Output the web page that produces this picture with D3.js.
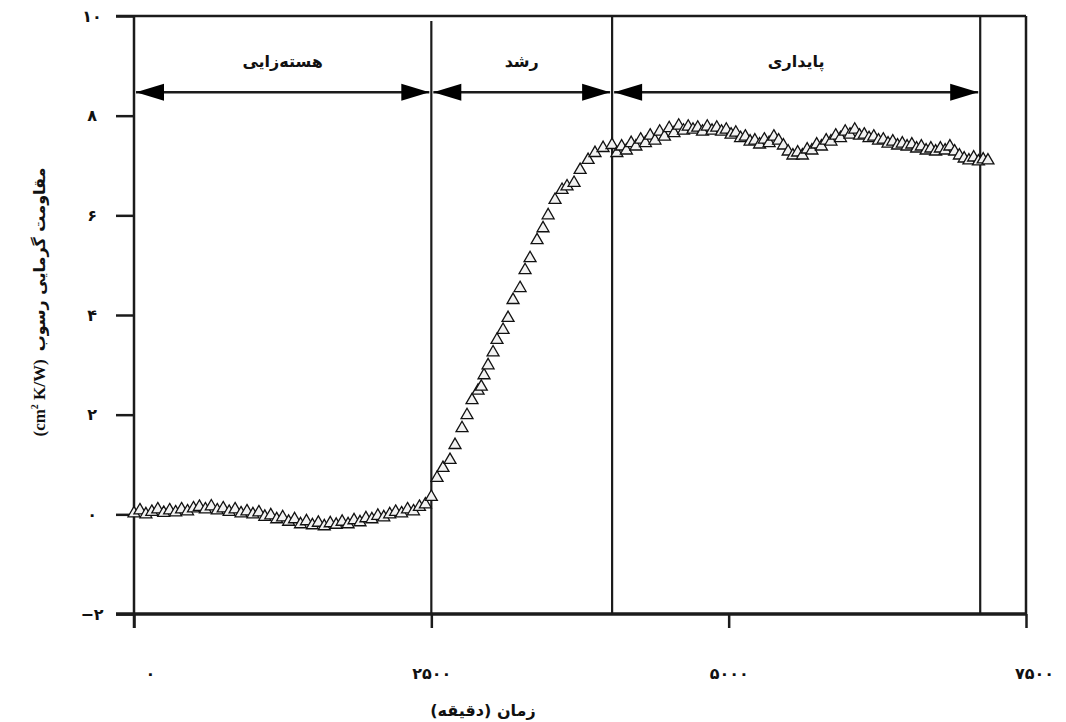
<!DOCTYPE html>
<html>
<head>
<meta charset="utf-8">
<script src="https://cdn.jsdelivr.net/npm/d3@7"></script>
<style>
  body { margin: 0; background: #fff; }
  svg { display: block; }
  text { font-family: "DejaVu Sans", sans-serif; font-weight: bold; fill: #111; }
</style>
</head>
<body>
<svg width="1066" height="722"></svg>
<script>
// داده ها (زمان به دقیقه، مقاومت cm2 K/W)
var nucleationTime = [0,50,100,150,200,250,300,350,400,450,500,550,600,650,700,750,800,850,900,950,
    1000,1050,1100,1150,1200,1250,1300,1350,1400,1450,1500,1550,1600,1650,1700,1750,1800,1850,1900,1950,
    2000,2050,2100,2150,2200,2250,2300,2350,2400,2450,2500];
var nucleationR = [0.02,0.08,0.0,0.05,0.1,0.03,0.08,0.04,0.1,0.06,0.12,0.15,0.1,0.16,0.08,0.12,0.05,0.1,0.02,0.06,
    0.0,0.04,-0.05,-0.02,-0.1,-0.06,-0.15,-0.1,-0.2,-0.14,-0.22,-0.17,-0.24,-0.18,-0.21,-0.15,-0.2,-0.12,-0.16,-0.08,
    -0.1,-0.03,-0.06,0.0,0.05,0.02,0.1,0.06,0.15,0.2,0.35];

var growthTime = [2548,2598,2657,2699,2758,2800,2842,2893,2920,2943,2977,3019,3052,3103,3145,3187,3246,3288,3330,
    3389,3439,3482,3540,3599,3641,3700,3751,3818,3876,3944,4019];
var growthR = [0.73,0.93,1.09,1.39,1.73,1.99,2.29,2.48,2.56,2.79,2.99,3.25,3.5,3.7,3.94,4.3,4.54,4.9,5.14,
    5.5,5.74,6.0,6.31,6.51,6.58,6.65,6.91,7.11,7.25,7.35,7.41];

var stableTime = [4060,4100,4140,4180,4220,4260,4300,4340,4380,4420,4460,4500,4540,4580,4620,4660,4700,4740,4780,4820,
    4860,4900,4940,4980,5020,5060,5100,5140,5180,5220,5260,5300,5340,5380,5420,5460,5500,5540,5580,5620,
    5660,5700,5740,5780,5820,5860,5900,5940,5980,6020,6060,6100,6140,6180,6220,6260,6300,6340,6380,6420,
    6460,6500,6540,6580,6620,6660,6700,6740,6780,6820,6860,6900,6940,6980,7020,7060,7100,7140,7180];
var stableR = [7.25,7.38,7.3,7.45,7.38,7.52,7.45,7.6,7.5,7.68,7.58,7.75,7.65,7.8,7.7,7.78,7.72,7.76,7.68,7.78,
    7.7,7.76,7.68,7.72,7.62,7.66,7.55,7.58,7.48,7.5,7.42,7.52,7.45,7.58,7.5,7.4,7.28,7.2,7.26,7.2,
    7.32,7.3,7.42,7.38,7.5,7.48,7.6,7.55,7.68,7.62,7.72,7.6,7.62,7.55,7.58,7.5,7.52,7.44,7.48,7.4,
    7.44,7.38,7.42,7.34,7.38,7.3,7.34,7.28,7.34,7.3,7.38,7.28,7.2,7.14,7.1,7.16,7.08,7.12,7.1];

// مرحله ها
var phaseNames = ["هسته\u200cزایی", "رشد", "پایداری"];
var phaseStart = [0, 2500, 4020];
var phaseEnd = [2500, 4020, 7115];
var arrowLevel = 8.47;

var xTicks = [0, 2500, 5000, 7500];
var xTickLabels = ["۰", "۲۵۰۰", "۵۰۰۰", "۷۵۰۰"];
var yTicks = [-2, 0, 2, 4, 6, 8, 10];
var yTickLabels = ["\u2212۲", "۰", "۲", "۴", "۶", "۸", "۱۰"];

var svg = d3.select("svg");

var x = d3.scaleLinear().domain([0, 7500]).range([134, 1026]);
var y = d3.scaleLinear().domain([-2, 10]).range([614, 16]);

var points = [];
[[nucleationTime, nucleationR], [growthTime, growthR], [stableTime, stableR]].forEach(function(s) {
    s[0].forEach(function(t, i) { points.push({t: t, r: s[1][i]}); });
});

var ink = "#1b1b1b";

// محور x
var xAxis = svg.append("g")
    .attr("transform", "translate(0," + y(-2) + ")")
    .call(d3.axisBottom(x).tickValues(xTicks).tickSize(14).tickSizeOuter(0)
        .tickFormat(function(d, i) { return xTickLabels[i]; }));
xAxis.select(".domain").remove();
xAxis.selectAll(".tick line").attr("stroke", ink).attr("stroke-width", 2.5);
xAxis.selectAll(".tick text")
    .attr("y", 54)
    .attr("dx", function(d, i) { return i == 0 ? 16 : (i == 3 ? 8 : 0); })
    .style("font-size", "16px").style("font-family", "DejaVu Sans").style("font-weight", "bold").attr("fill", ink);

// محور y
var yAxis = svg.append("g")
    .attr("transform", "translate(" + x(0) + ",0)")
    .call(d3.axisLeft(y).tickValues(yTicks).tickSize(18).tickSizeOuter(0)
        .tickFormat(function(d, i) { return yTickLabels[i]; }));
yAxis.select(".domain").remove();
yAxis.selectAll(".tick line").attr("stroke", ink).attr("stroke-width", 2.5);
yAxis.selectAll(".tick text")
    .attr("x", -42).attr("text-anchor", "middle")
    .style("font-size", "16px").style("font-family", "DejaVu Sans").style("font-weight", "bold").attr("fill", ink);

// قاب
svg.append("line").attr("x1", x(0)).attr("x2", x(0)).attr("y1", y(10)).attr("y2", y(-2) + 14)
    .attr("stroke", ink).attr("stroke-width", 2.5);
svg.append("line").attr("x1", x(0) - 18).attr("x2", x(7500)).attr("y1", y(10)).attr("y2", y(10))
    .attr("stroke", ink).attr("stroke-width", 2.5);
svg.append("line").attr("x1", x(7500)).attr("x2", x(7500)).attr("y1", y(10)).attr("y2", y(-2))
    .attr("stroke", ink).attr("stroke-width", 2.5);
svg.append("line").attr("x1", x(0) - 18).attr("x2", x(7500)).attr("y1", y(-2)).attr("y2", y(-2))
    .attr("stroke", ink).attr("stroke-width", 3.5);

// خطوط مرز مرحله ها
svg.selectAll(".phaseLine").data(phaseEnd).enter().append("line")
    .attr("class", "phaseLine")
    .attr("x1", function(d) { return x(d); }).attr("x2", function(d) { return x(d); })
    .attr("y1", function(d, i) { return i == 0 ? y(10) + 5 : y(10); }).attr("y2", y(-2))
    .attr("stroke", ink).attr("stroke-width", 2.2);

// داده ها
svg.append("g").selectAll("path").data(points).enter().append("path")
    .attr("d", d3.symbol().type(d3.symbolTriangle).size(62))
    .attr("transform", function(d) { return "translate(" + x(d.t) + "," + y(d.r) + ")"; })
    .attr("fill", "#f2f2f2")
    .attr("stroke", "#111")
    .attr("stroke-width", 1.3);

// فلش ها
var ay = y(arrowLevel);
var headL = 28, headH = 8.5;
phaseNames.forEach(function(name, i) {
    var x1 = x(phaseStart[i]) + 2, x2 = x(phaseEnd[i]) - 2;
    svg.append("line").attr("x1", x1).attr("x2", x2).attr("y1", ay).attr("y2", ay)
        .attr("stroke", ink).attr("stroke-width", 2.4);
    svg.append("path")
        .attr("d", "M" + x1 + "," + ay + "L" + (x1 + headL) + "," + (ay - headH) + "L" + (x1 + headL) + "," + (ay + headH) + "Z")
        .attr("fill", "#000");
    svg.append("path")
        .attr("d", "M" + x2 + "," + ay + "L" + (x2 - headL) + "," + (ay - headH) + "L" + (x2 - headL) + "," + (ay + headH) + "Z")
        .attr("fill", "#000");
    svg.append("text")
        .attr("x", (x(phaseStart[i]) + x(phaseEnd[i])) / 2)
        .attr("y", 67)
        .attr("text-anchor", "middle")
        .attr("direction", "rtl")
        .style("font-size", "16px")
        .text(name);
});

// عنوان محور x
svg.append("text")
    .attr("x", 483).attr("y", 716)
    .attr("text-anchor", "middle")
    .attr("direction", "rtl")
    .style("font-size", "16px")
    .text("زمان (دقیقه)");

// عنوان محور y
var yt = svg.append("g").attr("transform", "translate(45,302) rotate(-90)");
var unitText = yt.append("text")
    .style("font-family", "Liberation Serif, serif").style("font-size", "17px").style("font-weight", "bold");
unitText.append("tspan").text("(cm");
unitText.append("tspan").attr("dy", -7).style("font-size", "10px").text("2");
unitText.append("tspan").attr("dy", 7).text(" K/W)");
var faText = yt.append("text").style("font-size", "16px").text("مقاومت گرمایی رسوب");
var wU = unitText.node().getComputedTextLength();
var wF = faText.node().getComputedTextLength();
var gap = 8;
var start = -(wU + gap + wF) / 2;
unitText.attr("x", start);
faText.attr("x", start + wU + gap);
</script>
</body>
</html>
